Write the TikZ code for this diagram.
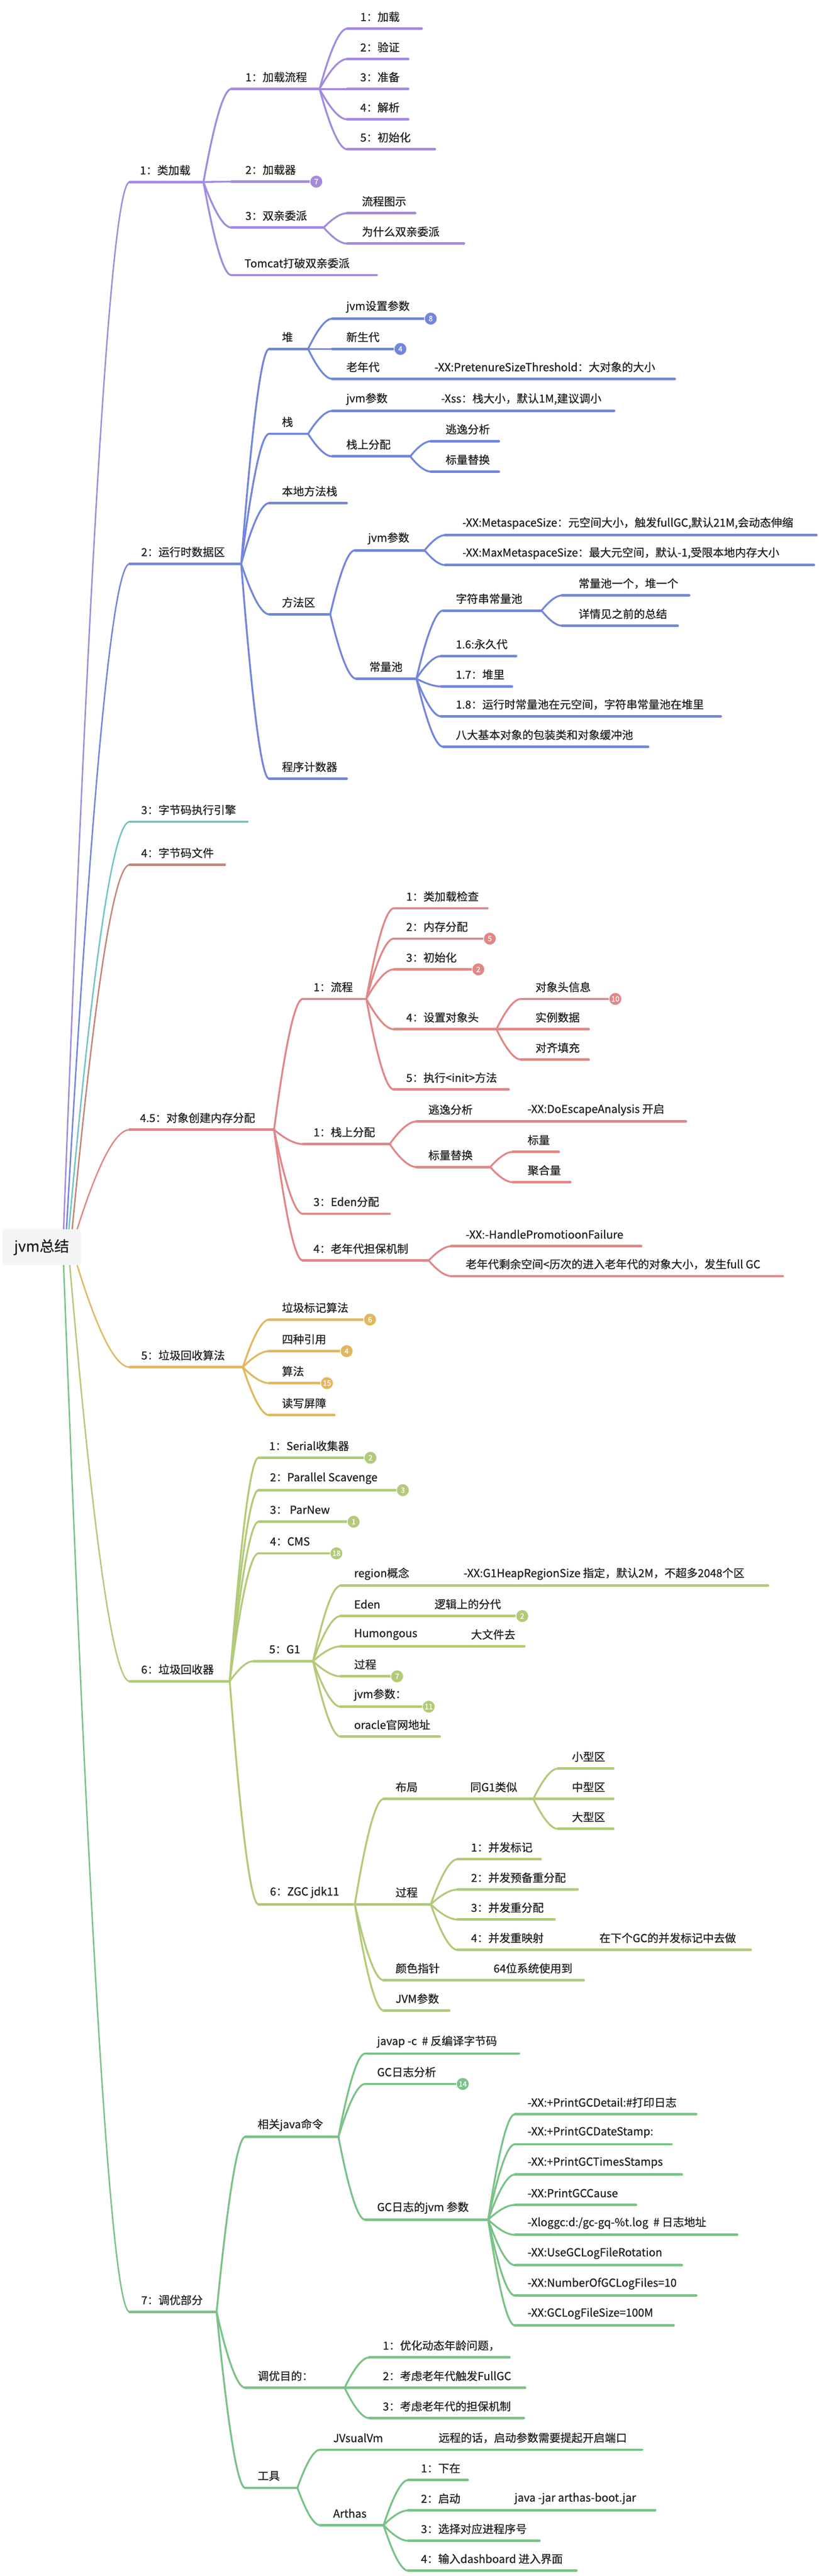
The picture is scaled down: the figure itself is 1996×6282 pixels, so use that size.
\documentclass[tikz,border=0pt]{standalone}
\usepackage{fontspec}
\setmainfont{Noto Sans CJK SC}[FakeBold=0.6]
\usetikzlibrary{calc}
\definecolor{cA}{HTML}{A38BDE}
\definecolor{cB}{HTML}{7386DB}
\definecolor{cC}{HTML}{72C4C0}
\definecolor{cD}{HTML}{C18976}
\definecolor{cE}{HTML}{E18787}
\definecolor{cF}{HTML}{E0B860}
\definecolor{cG}{HTML}{B2CA7A}
\definecolor{cH}{HTML}{7AC288}
\definecolor{txtc}{HTML}{1E1E1E}
\definecolor{rootfill}{HTML}{F4F4F4}
\colorlet{br}{cA}
\tikzset{
  ul/.style={line width=6pt, line cap=round, draw=br},
  cn/.style={line width=4.5pt, line cap=round, draw=br},
  rcn/.style={line width=3.5pt, line cap=round, draw=br},
  txt/.style={anchor=west, inner sep=0pt, font=\fontsize{27}{32}\selectfont, text=txtc},
  badge/.style={circle, fill=br, draw=white, line width=1.5pt, minimum size=31pt, inner sep=0pt, text=white, font=\fontsize{18}{19}\selectfont},
  rootbox/.style={rectangle, rounded corners=8pt, fill=rootfill, minimum width=191pt, minimum height=87pt, inner sep=0pt, font=\fontsize{36}{40}\selectfont, text=txtc},
  conn/.style={to path={let \p1=(\tikztostart), \p2=(\tikztotarget) in
     .. controls ({\x1+0.4*(\x2-\x1)},{\y1+0.6667*(\y2-\y1)}) and ({\x2-0.2667*(\x2-\x1)},{\y2}) .. (\tikztotarget)}}
}
\newcommand\mmnode[6]{%
  \coordinate (#1-s) at (#2,#4);
  \coordinate (#1-e) at (#3,#4);
  \draw[ul] (#1-s) -- (#1-e);
  \node[txt] (#1) at (#5,#4-29) {#6};}
\newcommand\mmlink[2]{\draw[cn] (#1-e) to[conn] (#2-s);}
\newcommand\mmrlink[2]{\draw[rcn] (#1) to[conn] (#2-s);}
\newcommand\mmbadge[2]{\node[badge] (#1-b) at (#1-e) {#2};}
\begin{document}
\begin{tikzpicture}[x=1pt,y=-1pt]
\fill[white] (0,0) rectangle (1996,6282);
\useasboundingbox (0,0) rectangle (1996,6282);

% ---------- branch 1
\colorlet{br}{cA}
\coordinate (rA) at (155,2998);
\mmnode{a}{316}{496}{444}{341}{1：类加载}
\mmrlink{rA}{a}
\mmnode{a1}{564}{779}{217}{598}{1：加载流程}\mmlink{a}{a1}
\mmnode{a11}{846}{1028}{70}{878}{1：加载}\mmlink{a1}{a11}
\mmnode{a12}{846}{995}{144}{878}{2：验证}\mmlink{a1}{a12}
\mmnode{a13}{846}{995}{217}{878}{3：准备}\mmlink{a1}{a13}
\mmnode{a14}{846}{995}{291}{878}{4：解析}\mmlink{a1}{a14}
\mmnode{a15}{846}{1060}{364}{878}{5：初始化}\mmlink{a1}{a15}
\mmnode{a2}{564}{771}{443}{598}{2：加载器}\mmlink{a}{a2}\mmbadge{a2}{7}
\mmnode{a3}{564}{789}{555}{598}{3：双亲委派}\mmlink{a}{a3}
\mmnode{a31}{846}{1012}{520}{882}{流程图示}\mmlink{a3}{a31}
\mmnode{a32}{846}{1131}{594}{882}{为什么双亲委派}\mmlink{a3}{a32}
\mmnode{a4}{564}{918}{671}{596}{Tomcat打破双亲委派}\mmlink{a}{a4}

% ---------- branch 2
\colorlet{br}{cB}
\coordinate (rB) at (162,2998);
\mmnode{b}{316}{588}{1375}{344}{2：运行时数据区}
\mmrlink{rB}{b}
\mmnode{b1}{656}{751}{851}{687}{堆}\mmlink{b}{b1}
\mmnode{b11}{810}{1050}{777}{844}{jvm设置参数}\mmlink{b1}{b11}\mmbadge{b11}{8}
\mmnode{b12}{810}{976}{851}{844}{新生代}\mmlink{b1}{b12}\mmbadge{b12}{4}
\mmnode{b13}{810}{960}{924}{844}{老年代}\mmlink{b1}{b13}
\mmnode{b131}{960}{1645}{924}{1059}{-XX:PretenureSizeThreshold：大对象的大小}
\mmnode{b2}{656}{751}{1058}{687}{栈}\mmlink{b}{b2}
\mmnode{b21}{810}{975}{1002}{844}{jvm参数}\mmlink{b2}{b21}
\mmnode{b211}{975}{1497}{1002}{1075}{-Xss：栈大小，默认1M,建议调小}
\mmnode{b22}{810}{1000}{1113}{844}{栈上分配}\mmlink{b2}{b22}
\mmnode{b221}{1050}{1216}{1076}{1086}{逃逸分析}\mmlink{b22}{b221}
\mmnode{b222}{1050}{1216}{1150}{1086}{标量替换}\mmlink{b22}{b222}
\mmnode{b3}{656}{845}{1227}{687}{本地方法栈}\mmlink{b}{b3}
\mmnode{b4}{656}{805}{1498}{687}{方法区}\mmlink{b}{b4}
\mmnode{b41}{865}{1035}{1342}{897}{jvm参数}\mmlink{b4}{b41}
\mmnode{b411}{1085}{1990}{1305}{1127}{-XX:MetaspaceSize：元空间大小，触发fullGC,默认21M,会动态伸缩}\mmlink{b41}{b411}
\mmnode{b412}{1085}{1984}{1378}{1127}{-XX:MaxMetaspaceSize：最大元空间，默认-1,受限本地内存大小}\mmlink{b41}{b412}
\mmnode{b42}{868}{1015}{1655}{900}{常量池}\mmlink{b4}{b42}
\mmnode{b421}{1080}{1320}{1489}{1111}{字符串常量池}\mmlink{b42}{b421}
\mmnode{b4211}{1370}{1680}{1452}{1410}{常量池一个，堆一个}\mmlink{b421}{b4211}
\mmnode{b4212}{1370}{1652}{1526}{1410}{详情见之前的总结}\mmlink{b421}{b4212}
\mmnode{b422}{1075}{1258}{1600}{1111}{1.6:永久代}\mmlink{b42}{b422}
\mmnode{b423}{1075}{1248}{1674}{1111}{1.7：堆里}\mmlink{b42}{b423}
\mmnode{b424}{1075}{1757}{1747}{1111}{1.8：运行时常量池在元空间，字符串常量池在堆里}\mmlink{b42}{b424}
\mmnode{b425}{1080}{1580}{1821}{1111}{八大基本对象的包装类和对象缓冲池}\mmlink{b42}{b425}
\mmnode{b5}{656}{845}{1899}{687}{程序计数器}\mmlink{b}{b5}

% ---------- branch 3, 4
\colorlet{br}{cC}
\coordinate (rC) at (168,2998);
\mmnode{c}{316}{603}{2004}{344}{3：字节码执行引擎}
\mmrlink{rC}{c}
\colorlet{br}{cD}
\coordinate (rD) at (176,2998);
\mmnode{d}{316}{548}{2109}{344}{4：字节码文件}
\mmrlink{rD}{d}

% ---------- branch 4.5
\colorlet{br}{cE}
\coordinate (rE) at (188,2998);
\mmnode{e}{316}{668}{2755}{341}{4.5：对象创建内存分配}
\mmrlink{rE}{e}
\mmnode{e1}{738}{893}{2436}{764}{1：流程}\mmlink{e}{e1}
\mmnode{e11}{960}{1188}{2215}{990}{1：类加载检查}\mmlink{e1}{e11}
\mmnode{e12}{960}{1194}{2289}{990}{2：内存分配}\mmlink{e1}{e12}\mmbadge{e12}{5}
\mmnode{e13}{960}{1166}{2364}{990}{3：初始化}\mmlink{e1}{e13}\mmbadge{e13}{2}
\mmnode{e14}{960}{1210}{2510}{990}{4：设置对象头}\mmlink{e1}{e14}
\mmnode{e141}{1270}{1500}{2436}{1305}{对象头信息}\mmlink{e14}{e141}\mmbadge{e141}{10}
\mmnode{e142}{1210}{1435}{2510}{1305}{实例数据}
\mmnode{e143}{1270}{1435}{2584}{1305}{对齐填充}\mmlink{e14}{e143}
\mmnode{e15}{960}{1240}{2657}{990}{5：执行<init>方法}\mmlink{e1}{e15}
\mmnode{e2}{738}{950}{2790}{764}{1：栈上分配}\mmlink{e}{e2}
\mmnode{e21}{1015}{1250}{2735}{1044}{逃逸分析}\mmlink{e2}{e21}
\mmnode{e211}{1250}{1672}{2735}{1286}{-XX:DoEscapeAnalysis 开启}
\mmnode{e22}{1015}{1195}{2846}{1044}{标量替换}\mmlink{e2}{e22}
\mmnode{e221}{1250}{1362}{2809}{1286}{标量}\mmlink{e22}{e221}
\mmnode{e222}{1250}{1390}{2883}{1286}{聚合量}\mmlink{e22}{e222}
\mmnode{e3}{738}{950}{2960}{764}{3：Eden分配}\mmlink{e}{e3}
\mmnode{e4}{738}{1045}{3074}{764}{4：老年代担保机制}\mmlink{e}{e4}
\mmnode{e41}{1100}{1563}{3039}{1135}{-XX:-HandlePromotioonFailure}\mmlink{e4}{e41}
\mmnode{e42}{1100}{1908}{3112}{1135}{老年代剩余空间<历次的进入老年代的对象大小，发生full GC}\mmlink{e4}{e42}

% ---------- branch 5
\colorlet{br}{cF}
\coordinate (rF) at (188,3085);
\mmnode{f}{316}{592}{3334}{344}{5：垃圾回收算法}
\mmrlink{rF}{f}
\mmnode{f1}{656}{902}{3218}{687}{垃圾标记算法}\mmlink{f}{f1}\mmbadge{f1}{6}
\mmnode{f2}{656}{845}{3295}{687}{四种引用}\mmlink{f}{f2}\mmbadge{f2}{4}
\mmnode{f3}{656}{797}{3373}{687}{算法}\mmlink{f}{f3}\mmbadge{f3}{15}
\mmnode{f4}{656}{815}{3451}{687}{读写屏障}\mmlink{f}{f4}

% ---------- branch 6
\colorlet{br}{cG}
\coordinate (rG) at (170,3085);
\mmnode{g}{316}{560}{4100}{344}{6：垃圾回收器}
\mmrlink{rG}{g}
\mmnode{g1}{630}{903}{3555}{656}{1：Serial收集器}\mmlink{g}{g1}\mmbadge{g1}{2}
\mmnode{g2}{630}{982}{3634}{658}{2：Parallel Scavenge}\mmlink{g}{g2}\mmbadge{g2}{3}
\mmnode{g3}{630}{862}{3711}{658}{3： ParNew}\mmlink{g}{g3}\mmbadge{g3}{1}
\mmnode{g4}{630}{820}{3788}{658}{4：CMS}\mmlink{g}{g4}\mmbadge{g4}{18}
\mmnode{g5}{618}{763}{4051}{656}{5：G1}\mmlink{g}{g5}
\mmnode{g51}{830}{1100}{3867}{863}{region概念}\mmlink{g5}{g51}
\mmnode{g511}{1100}{1872}{3867}{1130}{-XX:G1HeapRegionSize 指定，默认2M，不超多2048个区}
\mmnode{g52}{830}{1030}{3941}{863}{Eden}\mmlink{g5}{g52}
\mmnode{g521}{1030}{1273}{3941}{1059}{逻辑上的分代}\mmbadge{g521}{2}
\mmnode{g53}{830}{1120}{4015}{863}{Humongous}\mmlink{g5}{g53}
\mmnode{g531}{1120}{1278}{4015}{1148}{大文件去}
\mmnode{g54}{830}{968}{4088}{863}{过程}\mmlink{g5}{g54}\mmbadge{g54}{7}
\mmnode{g55}{830}{1045}{4162}{863}{jvm参数：}\mmlink{g5}{g55}\mmbadge{g55}{11}
\mmnode{g56}{830}{1072}{4235}{863}{oracle官网地址}\mmlink{g5}{g56}
\mmnode{g6}{630}{865}{4644}{658}{6：ZGC jdk11}\mmlink{g}{g6}
\mmnode{g61}{935}{1110}{4387}{964}{布局}\mmlink{g6}{g61}
\mmnode{g611}{1110}{1300}{4387}{1146}{同G1类似}
\mmnode{g6111}{1360}{1495}{4313}{1394}{小型区}\mmlink{g611}{g6111}
\mmnode{g6112}{1300}{1495}{4387}{1394}{中型区}
\mmnode{g6113}{1360}{1495}{4460}{1394}{大型区}\mmlink{g611}{g6113}
\mmnode{g62}{865}{1050}{4644}{964}{过程}
\mmnode{g621}{1115}{1318}{4534}{1148}{1：并发标记}\mmlink{g62}{g621}
\mmnode{g622}{1115}{1408}{4608}{1148}{2：并发预备重分配}\mmlink{g62}{g622}
\mmnode{g623}{1115}{1352}{4681}{1148}{3：并发重分配}\mmlink{g62}{g623}
\mmnode{g624}{1115}{1420}{4755}{1148}{4：并发重映射}\mmlink{g62}{g624}
\mmnode{g6241}{1420}{1830}{4755}{1461}{在下个GC的并发标记中去做}
\mmnode{g63}{935}{1170}{4829}{964}{颜色指针}\mmlink{g6}{g63}
\mmnode{g631}{1170}{1423}{4829}{1203}{64位系统使用到}
\mmnode{g64}{935}{1095}{4903}{964}{JVM参数}\mmlink{g6}{g64}

% ---------- branch 7
\colorlet{br}{cH}
\coordinate (rH) at (155,3085);
\mmnode{h}{316}{528}{5638}{344}{7：调优部分}
\mmrlink{rH}{h}
\mmnode{h1}{598}{825}{5211}{628}{相关java命令}\mmlink{h}{h1}
\mmnode{h11}{890}{1265}{5008}{919}{javap -c \ \# 反编译字节码}\mmlink{h1}{h11}
\mmnode{h12}{890}{1128}{5082}{919}{GC日志分析}\mmlink{h1}{h12}\mmbadge{h12}{14}
\mmnode{h13}{890}{1190}{5413}{919}{GC日志的jvm 参数}\mmlink{h1}{h13}
\mmnode{h131}{1255}{1697}{5156}{1286}{-XX:+PrintGCDetail:\#打印日志}\mmlink{h13}{h131}
\mmnode{h132}{1255}{1637}{5229}{1286}{-XX:+PrintGCDateStamp:}\mmlink{h13}{h132}
\mmnode{h133}{1255}{1662}{5303}{1286}{-XX:+PrintGCTimesStamps}\mmlink{h13}{h133}
\mmnode{h134}{1255}{1550}{5377}{1286}{-XX:PrintGCCause}\mmlink{h13}{h134}
\mmnode{h135}{1255}{1797}{5450}{1286}{-Xloggc:d:/gc-gq-\%t.log \ \# 日志地址}\mmlink{h13}{h135}
\mmnode{h136}{1255}{1662}{5524}{1286}{-XX:UseGCLogFileRotation}\mmlink{h13}{h136}
\mmnode{h137}{1255}{1697}{5598}{1286}{-XX:NumberOfGCLogFiles=10}\mmlink{h13}{h137}
\mmnode{h138}{1255}{1642}{5671}{1286}{-XX:GCLogFileSize=100M}\mmlink{h13}{h138}
\mmnode{h2}{598}{840}{5823}{628}{调优目的：}\mmlink{h}{h2}
\mmnode{h21}{900}{1242}{5749}{933}{1：优化动态年龄问题，}\mmlink{h2}{h21}
\mmnode{h22}{840}{1280}{5823}{933}{2：考虑老年代触发FullGC}
\mmnode{h23}{900}{1277}{5897}{933}{3：考虑老年代的担保机制}\mmlink{h2}{h23}
\mmnode{h3}{598}{725}{6067}{628}{工具}\mmlink{h}{h3}
\mmnode{h31}{780}{1040}{5974}{812}{JVsualVm}\mmlink{h3}{h31}
\mmnode{h311}{1040}{1565}{5974}{1069}{远程的话，启动参数需要提起开启端口}
\mmnode{h32}{780}{935}{6158}{812}{Arthas}\mmlink{h3}{h32}
\mmnode{h321}{995}{1140}{6048}{1026}{1：下在}\mmlink{h32}{h321}
\mmnode{h322}{995}{1230}{6122}{1026}{2：启动}\mmlink{h32}{h322}
\mmnode{h3221}{1230}{1597}{6122}{1254}{java -jar arthas-boot.jar}
\mmnode{h323}{995}{1315}{6196}{1026}{3：选择对应进程序号}\mmlink{h32}{h323}
\mmnode{h324}{995}{1405}{6269}{1026}{4：输入dashboard 进入界面}\mmlink{h32}{h324}

% ---------- root
\node[rootbox] (root) at (101.5,3041.5) {jvm总结};
\end{tikzpicture}
\end{document}
